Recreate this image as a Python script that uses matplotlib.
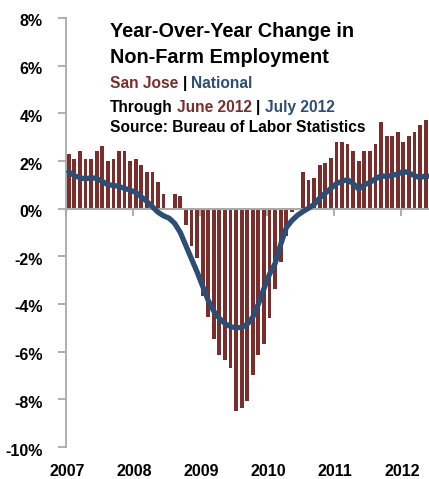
import numpy as np
import matplotlib
matplotlib.use("Agg")
import matplotlib.pyplot as plt
from matplotlib import transforms
from matplotlib import font_manager as fm

# year-over-year % change in non-farm employment, monthly from Jan 2007
years = ["2007", "2008", "2009", "2010", "2011", "2012"]

# San Jose, Jan 2007 - Jun 2012
san_jose = [
    2.31, 2.10, 2.41, 2.10, 2.10, 2.41, 2.63, 2.00, 2.10, 2.41, 2.41, 2.00,
    2.10, 1.82, 1.52, 1.52, 1.12, 0.62, 0.00, 0.62, 0.52, -0.67, -1.58, -2.07,
    -3.68, -4.56, -5.46, -6.16, -6.34, -6.67, -8.47, -8.38, -8.07, -6.97, -6.16, -5.67,
    -4.58, -3.36, -2.25, -1.16, -0.15, 0.00, 1.53, 1.22, 1.30, 1.82, 1.92, 2.11,
    2.81, 2.81, 2.72, 2.41, 2.01, 2.41, 2.41, 2.72, 3.63, 3.03, 3.03, 3.21,
    2.81, 3.03, 3.21, 3.52, 3.73, 3.80,
]

# National, Jan 2007 - Jul 2012
national = [
    1.55, 1.38, 1.30, 1.25, 1.30, 1.27, 1.15, 1.00, 0.98, 0.93, 0.85, 0.78,
    0.68, 0.50, 0.30, 0.08, -0.15, -0.30, -0.40, -0.62, -1.00, -1.55, -2.10, -2.65,
    -3.25, -3.85, -4.30, -4.60, -4.82, -4.95, -5.00, -4.98, -4.85, -4.55, -4.00, -3.35,
    -2.75, -2.30, -1.50, -0.80, -0.50, -0.28, -0.12, 0.02, 0.18, 0.45, 0.65, 0.85,
    1.05, 1.15, 1.22, 1.05, 0.82, 1.00, 1.10, 1.25, 1.38, 1.35, 1.40, 1.45,
    1.57, 1.50, 1.38, 1.30, 1.38, 1.35, 1.35,
]

RED = "#7a2e2b"
BLUE = "#2c4d74"
GREY = "#a9a9a9"
installed = {f.name for f in fm.fontManager.ttflist}
if "Liberation Sans Narrow" in installed:
    TITLE_FONT = ["Liberation Sans Narrow", "DejaVu Sans"]
else:
    TITLE_FONT = ["Liberation Sans", "DejaVu Sans"]
TICK_FONT = ["Liberation Sans", "DejaVu Sans"]

W, H = 429, 479
fig = plt.figure(figsize=(W / 100, H / 100), dpi=100)
ax = fig.add_axes([66 / W, 32 / H, 1 - 66 / W, 429 / H])

x_sj = np.arange(len(san_jose))
x_nat = np.arange(len(national))
ax.bar(x_sj, san_jose, width=0.68, color=RED, linewidth=0, zorder=2)
ax.plot(x_nat, national, color=BLUE, lw=3.8, solid_joinstyle="round",
        solid_capstyle="round", zorder=4)

ax.set_xlim(-0.5, 64.6)
ax.set_ylim(-10, 8)

for side in ["top", "right"]:
    ax.spines[side].set_visible(False)
ax.spines["left"].set_color(GREY)
ax.spines["left"].set_linewidth(1.3)
ax.spines["bottom"].set_position(("data", 0))
ax.spines["bottom"].set_color(GREY)
ax.spines["bottom"].set_linewidth(1.5)
ax.spines["bottom"].set_zorder(3)

year_starts = [-0.5 + 12 * i for i in range(len(years))]
ax.set_xticks(year_starts)
ax.tick_params(axis="x", direction="out", length=5, width=1.3, color=GREY,
               labelbottom=False)

yt = list(range(-10, 9, 2))
ax.set_yticks(yt)
ax.set_yticklabels([f"{v}%" for v in yt], fontfamily=TICK_FONT,
                   fontweight="bold", fontsize=11.5)
ax.tick_params(axis="y", direction="out", length=6, width=1.3, color=GREY, pad=11)
shift = transforms.ScaledTranslation(0, -0.025, fig.dpi_scale_trans)
for lbl in ax.get_yticklabels():
    lbl.set_transform(lbl.get_transform() + shift)

trans = transforms.blended_transform_factory(ax.transData, ax.transAxes)
for xs, yr in zip(year_starts, years):
    ax.text(xs + 0.3, -0.056, yr, transform=trans, ha="center", va="center",
            fontfamily=TICK_FONT, fontweight="bold", fontsize=11.5)

# title block, pieces of one line get their own colours
renderer = fig.canvas.get_renderer()


def text_width(s, size):
    t = fig.text(0, 0, s, fontsize=size, fontweight="bold", family=TITLE_FONT)
    w = t.get_window_extent(renderer).width
    t.remove()
    return w


def fit_size(s, target_px, ref=12.0):
    return ref * target_px / text_width(s, ref)


def rich_line(x_px, base_px, pieces, size):
    space = text_width("I I", size) - text_width("II", size)
    x = x_px
    for text, color in pieces:
        t = fig.text(x / W, 1 - base_px / H, text, color=color, fontsize=size,
                     fontweight="bold", family=TITLE_FONT, va="baseline", ha="left")
        x += t.get_window_extent(renderer).width + space


title_size = (fit_size("Year-Over-Year Change in", 242)
              + fit_size("Non-Farm Employment", 219)) / 2
sub_size = (fit_size("San Jose | National", 141)
            + fit_size("Through June 2012 | July 2012", 227)
            + fit_size("Source: Bureau of Labor Statistics", 252)) / 3

rich_line(110, 36.7, [("Year-Over-Year Change in", "black")], title_size)
rich_line(110, 62.7, [("Non-Farm Employment", "black")], title_size)
rich_line(110, 87.7, [("San Jose", RED), ("|", "black"), ("National", BLUE)], sub_size)
rich_line(110, 111.7, [("Through", "black"), ("June 2012", RED), ("|", "black"),
                       ("July 2012", BLUE)], sub_size)
rich_line(110, 132.3, [("Source: Bureau of Labor Statistics", "black")], sub_size)

fig.savefig("out.png", dpi=100)
